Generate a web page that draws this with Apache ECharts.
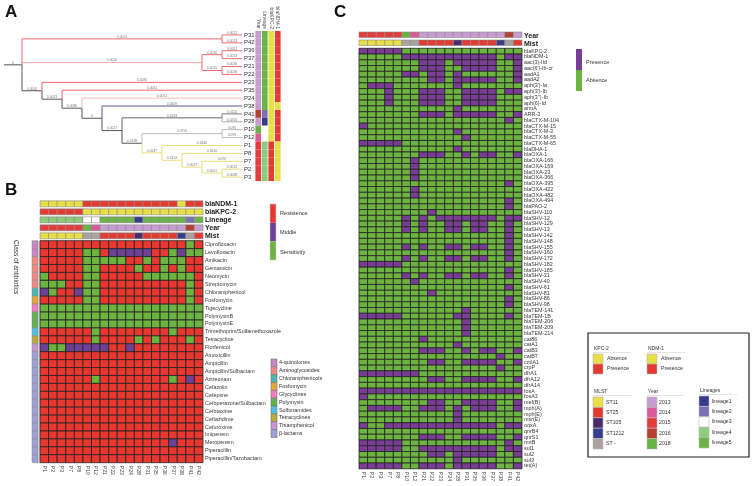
<!DOCTYPE html>
<html>
<head>
<meta charset="utf-8">
<script src="https://cdn.jsdelivr.net/npm/echarts@6/dist/echarts.min.js"></script>
<style>
html, body { margin: 0; padding: 0; background: #fff; }
#chart { width: 753px; height: 486px; }
</style>
</head>
<body>
<div id="chart"></div>
<script>
const FONT = 'Liberation Sans, Arial, sans-serif'

// isolates, column order of panels B and C
const isolates = ['P1', 'P2', 'P3', 'P7', 'P8', 'P10', 'P12', 'P21', 'P22', 'P23', 'P24', 'P28', 'P31', 'P35', 'P36', 'P37', 'P38', 'P41', 'P42']
const isolateYear = ['2015', '2015', '2015', '2015', '2015', '2018', '2014', '2013', '2013', '2013', '2013', '2013', '2013', '2013', '2013', '2013', '2013', '2016', '2013']
const isolateMLST = ['ST11', 'ST11', 'ST11', 'ST11', 'ST11', 'ST -', 'ST -', 'ST25', 'ST25', 'ST25', 'ST25', 'ST105', 'ST25', 'ST25', 'ST25', 'ST25', 'ST1212', 'ST -', 'ST25']
const isolateLineage = ['lineage4', 'lineage4', 'lineage4', 'lineage4', 'lineage4', 'lineage3', 'lineage3', 'lineage5', 'lineage5', 'lineage5', 'lineage5', 'lineage1', 'lineage5', 'lineage5', 'lineage5', 'lineage5', 'lineage5', 'lineage2', 'lineage5']
const isolateKPC = ['Presence', 'Presence', 'Presence', 'Presence', 'Presence', 'Absence', 'Absence', 'Absence', 'Absence', 'Absence', 'Absence', 'Absence', 'Absence', 'Absence', 'Absence', 'Absence', 'Absence', 'Absence', 'Absence']
const isolateNDM = ['Absence', 'Absence', 'Absence', 'Absence', 'Absence', 'Presence', 'Presence', 'Presence', 'Presence', 'Presence', 'Presence', 'Presence', 'Presence', 'Presence', 'Presence', 'Presence', 'Absence', 'Presence', 'Presence']

// panel A tree (branch length labels as printed)
const tree = { len: '0', color: '#555', children: [
	{ len: '0.0023', color: '#e86b70', children: [{ name: 'P31', len: '0.0021' }, { name: 'P42', len: '0.0023' }] },
	{ len: '0.0020', color: '#f0a9ab', children: [
		{ len: '0.0016', color: '#e86b70', children: [{ name: 'P36', len: '0.0011' }, { name: 'P37', len: '0.0013' }] },
		{ len: '0.0015', color: '#e86b70', children: [{ name: 'P21', len: '0.0026' }, { name: 'P22', len: '0.0026' }] },
	] },
	{ len: '0.0002', children: [
		{ name: 'P23', len: '0.0085', color: '#e86b70' },
		{ len: '0.0013', children: [
			{ name: 'P35', len: '0.0061', color: '#e86b70' },
			{ len: '0.0080', children: [
				{ name: 'P24', len: '0.0051', color: '#f5b9bb' },
				{ len: '0', children: [
					{ name: 'P38', len: '0.0609', color: '#565b8d' },
					{ len: '0.0027', children: [
						{ len: '0.0183', color: '#666', children: [{ name: 'P41', len: '0.0120', color: '#777' }, { name: 'P28', len: '0.0255', color: '#aaa' }] },
						{ len: '0.0138', children: [
							{ len: '0.0755', color: '#bbb', children: [{ name: 'P10', len: '0.095' }, { name: 'P12', len: '0.095' }] },
							{ len: '0.0247', color: '#e6df78', children: [
								{ name: 'P1', len: '0.0646' },
								{ len: '0.0124', children: [
									{ name: 'P8', len: '0.0610' },
									{ len: '0.0027', children: [
										{ name: 'P7', len: '0.092' },
										{ len: '0.0051', children: [{ name: 'P2', len: '0.0012' }, { name: 'P3', len: '0.0068' }] },
									] },
								] },
							] },
						] },
					] },
				] },
			] },
		] },
	] },
] }

// panel B: antibiotic susceptibility (R resistance, M middle, S sensitivity)
const antibiotics = ['Ciprofloxacin', 'Levofloxacin', 'Amikacin', 'Gentamicin', 'Neomycin', 'Streptomycin', 'Chloramphenicol', 'Fosfomycin', 'Tigecycline', 'PolymyxinB', 'PolymyxinE', 'Trimethoprim/Sulfamethoxazole', 'Tetracycline', 'Florfenicol', 'Amoxicillin', 'Ampicillin', 'Ampicillin/Sulbactam', 'Aztreonam', 'Cefazolin', 'Cefepime', 'Cefoperazone/Sulbactam', 'Cefotaxime', 'Ceftazidime', 'Cefuroxime', 'Imipenem', 'Meropenem', 'Piperacillin', 'Piperacillin/Tazobactam']
const antibioticClass = ['4-quinolones', '4-quinolones', 'Aminoglycosides', 'Aminoglycosides', 'Aminoglycosides', 'Aminoglycosides', 'Chloramphenicols', 'Fosfomycin', 'Glycyclines', 'Polymyxin', 'Polymyxin', 'Sulfonamides', 'Tetracyclines', 'Thiamphenicol', 'β-lactams', 'β-lactams', 'β-lactams', 'β-lactams', 'β-lactams', 'β-lactams', 'β-lactams', 'β-lactams', 'β-lactams', 'β-lactams', 'β-lactams', 'β-lactams', 'β-lactams', 'β-lactams']
const susceptibility = [
	'RRRRRRRRRRRRRRRRRSR',
	'RRRRRSSRMMMMMRRSMSS',
	'RRRRRSSSSSRRSRSSSRR',
	'RRRRRSSRRRRSRRSRSRR',
	'SRRRRSSRRRRRSSSSSSR',
	'SSSRRSSRRRRRRRRRRSR',
	'MSRRMSSRRRRRRRRRRSR',
	'RRRRRSSRRRRRRRRRRSR',
	'SSSSSSSSSSSSSSSSSSS',
	'SSSSSSSSSSSSSSSSSSS',
	'SSSSSSSSSSSSSSSSSSS',
	'RRRRRRSRRRRRRRRSRRR',
	'RRRRRRSRRRRSRSRRRSR',
	'MSSMMMMMRRMRRRRRRRR',
	'RRRRRRRRRRRRRRRRRRR',
	'RRRRRRRRRRRRRRRRRRR',
	'RRRRRRRRRRRRRRRRRRR',
	'RRRRRRSRRRRRRRRSRMR',
	'RRRRRRRRRRRRRRRRRRR',
	'RRRRRRRRRRRRRRRRRRR',
	'RRRRRRRRRRRRRRRRRRR',
	'RRRRRRRRRRRRRRRRRRR',
	'RRRRRRRRRRRRRRRRRRR',
	'RRRRRRRRRRRRRRRRRRR',
	'RRRRRRRRRRRRRRRRRRR',
	'RRRRRRRRRRRRRRRMRRR',
	'RRRRRRRRRRRRRRRRRRR',
	'RRRRRRRRRRRRRRRRRRR',
]

// panel C: resistance genes (1 presence, 0 absence)
const genes = ['blaKPC-2', 'blaNDM-1', 'aac(3)-IId', "aac(6')-Ib-cr", 'aadA1', 'aadA2', "aph(3')-Ia", "aph(3')-Ib", "aph(3'')-Ib", 'aph(6)-Id', 'armA', 'ARR-3', 'blaCTX-M-104', 'blaCTX-M-15', 'blaCTX-M-3', 'blaCTX-M-55', 'blaCTX-M-65', 'blaDHA-1', 'blaOXA-1', 'blaOXA-166', 'blaOXA-169', 'blaOXA-23', 'blaOXA-366', 'blaOXA-395', 'blaOXA-422', 'blaOXA-482', 'blaOXA-494', 'blaPAO-2', 'blaSHV-110', 'blaSHV-12', 'blaSHV-129', 'blaSHV-13', 'blaSHV-142', 'blaSHV-148', 'blaSHV-155', 'blaSHV-160', 'blaSHV-172', 'blaSHV-182', 'blaSHV-185', 'blaSHV-31', 'blaSHV-40', 'blaSHV-61', 'blaSHV-81', 'blaSHV-86', 'blaSHV-98', 'blaTEM-141', 'blaTEM-1B', 'blaTEM-206', 'blaTEM-209', 'blaTEM-214', 'cat86', 'catA1', 'catB3', 'catB7', 'cmlA1', 'crpP', 'dfrA1', 'dfrA12', 'dfrA14', 'fosA', 'fosA3', 'mef(B)', 'mph(A)', 'mph(E)', 'msr(E)', 'oqxA', 'qnrB4', 'qnrS1', 'rmtB', 'sul1', 'sul2', 'sul3', 'tet(A)']
const genePresence = [
	'1111100000000000000',
	'0000011111111111011',
	'0000000111011111001',
	'0000000111001111001',
	'0000011011010000001',
	'0000000011011111001',
	'0111000000010000000',
	'0001000111001111011',
	'0001000111001111000',
	'0001000111001111000',
	'0000000000010000000',
	'0000000111011111001',
	'0000000000000000010',
	'1000000000000000000',
	'0000000000010000000',
	'0000000000001000000',
	'1111100000000000000',
	'0000000000010000000',
	'0000000111001011001',
	'0000001000000000000',
	'0000001000000000000',
	'0000001000000000000',
	'0000001000000000000',
	'0000000000000000010',
	'0000001000000000000',
	'0000001000000000000',
	'0000000000000000010',
	'0000000000000000010',
	'0000000010000000000',
	'0000010101111111011',
	'0000010100110110010',
	'0000010100110110010',
	'0000000000000000010',
	'0000000000000000010',
	'0000010100110110010',
	'0000000000000000010',
	'0000010100110110010',
	'1111100000000000000',
	'0000000000000000010',
	'0000010100110110010',
	'0000001000000000000',
	'0000000000000000010',
	'0000000010000000000',
	'0000000000000000010',
	'0000000000000000010',
	'0000000000001000000',
	'1111100000011000010',
	'0000000000001000000',
	'0000000000001000000',
	'0000000000001000000',
	'0000000100000000000',
	'0000000000010000000',
	'0000000111001011001',
	'0000000000000000100',
	'0000000011001111001',
	'0000000000000000100',
	'1111111000000000000',
	'0000000011001111001',
	'0000000000000000000',
	'1111111111111111111',
	'1000000000000000000',
	'0000000011001111001',
	'0111100111010111001',
	'0000000000010000000',
	'0000000000010000000',
	'1001111111111111011',
	'0000000000000000000',
	'0000000111001111001',
	'1111100000000000010',
	'1111100111111111011',
	'0000000011011111001',
	'0000000000010000000',
	'1111100111011111001',
]

const yearColors = { '2013': '#c79cd0', '2014': '#d95b9c', '2015': '#e23c3c', '2016': '#b5402f', '2018': '#6ab344' }
const mlstColors = { 'ST11': '#e6df48', 'ST25': '#e23b33', 'ST105': '#4b2a6a', 'ST1212': '#363d8c', 'ST -': '#aaa29e' }
const lineageColors = { lineage1: '#363b8a', lineage2: '#7b70b5', lineage3: '#ffffff', lineage4: '#8dca7b', lineage5: '#6ab344' }
const geneColors = { Absence: '#e6df48', Presence: '#e23b33' }
const susColors = { R: '#e8372f', M: '#6d3f95', S: '#6cb33f' }
const classColors = { '4-quinolones': '#c685c3', 'Aminoglycosides': '#f08a80', 'Chloramphenicols': '#4cb5b2', 'Fosfomycin': '#e5a43c', 'Glycyclines': '#f07cc2', 'Polymyxin': '#5fb24e', 'Sulfonamides': '#4fc0e2', 'Tetracyclines': '#b9aa3c', 'Thiamphenicol': '#c795d2', 'β-lactams': '#9da1d8' }
const presenceColors = { '1': '#7a3d96', '0': '#6cb33f' }

// ---- tree layout (leaves aligned, node x from its height) ----
const treeEdges = []
const leafOrder = []
function layoutTree(node, color) {
	node.color = node.color || color
	if (!node.children) {
		node.h = 0
		node.y = leafOrder.length
		leafOrder.push(node.name)
	} else {
		node.children.forEach((ch) => layoutTree(ch, node.color))
		node.h = Math.max(...node.children.map((c) => c.h)) + 1
		node.y = (node.children[0].y + node.children[node.children.length - 1].y) / 2
	}
}
layoutTree(tree, '#555')
const treeDepth = tree.h
function collectEdges(node) {
	if (!node.children) return
	node.children.forEach((ch) => {
		treeEdges.push({ px: treeDepth - node.h, py: node.y, cx: treeDepth - ch.h, cy: ch.y, color: ch.color, label: ch.len, name: ch.name })
		collectEdges(ch)
	})
}
treeEdges.push({ px: -0.9, py: tree.y, cx: 0, cy: tree.y, color: '#555', label: tree.len })
collectEdges(tree)

// ---- cell renderer for heatmap-like panels ----
function cellRenderer(palette, opt) {
	return function (params, api) {
		const c = api.coord([api.value(0), api.value(1)])
		const s = api.size([1, 1])
		const px = opt.padX || 0
		const pt = opt.padTop || 0
		const pb = opt.padBottom || 0
		return {
			type: 'rect',
			shape: { x: c[0] - s[0] / 2 + px, y: c[1] - s[1] / 2 + pt, width: s[0] - 2 * px, height: s[1] - pt - pb },
			style: { fill: palette[api.value(2)], stroke: opt.stroke || null, lineWidth: opt.lw || 0 },
		}
	}
}

function toPalette(map) {
	const keys = Object.keys(map)
	return { keys, colors: keys.map((k) => map[k]) }
}

// annotation table for panel A (by leaf)
const annotA = ['Year', 'Lineage', 'blaKPC-2', 'blaNDM-1']
const annotAColors = []
const annotAData = []
leafOrder.forEach((leaf, r) => {
	const i = isolates.indexOf(leaf)
	const cols = [yearColors[isolateYear[i]], lineageColors[isolateLineage[i]], geneColors[isolateKPC[i]], geneColors[isolateNDM[i]]]
	cols.forEach((col, k) => {
		annotAColors.push(col)
		annotAData.push([k, r, annotAColors.length - 1])
	})
})

// annotation rows for panel B
const annotB = ['blaNDM-1', 'blaKPC-2', 'Lineage', 'Year', 'Mist']
const annotBColors = []
const annotBData = []
isolates.forEach((iso, i) => {
	const cols = [geneColors[isolateNDM[i]], geneColors[isolateKPC[i]], lineageColors[isolateLineage[i]], yearColors[isolateYear[i]], mlstColors[isolateMLST[i]]]
	cols.forEach((col, r) => {
		annotBColors.push(col)
		annotBData.push([i, r, annotBColors.length - 1])
	})
})

// annotation rows for panel C
const annotC = ['Year', 'Mist']
const annotCColors = []
const annotCData = []
isolates.forEach((iso, i) => {
	;[yearColors[isolateYear[i]], mlstColors[isolateMLST[i]]].forEach((col, r) => {
		annotCColors.push(col)
		annotCData.push([i, r, annotCColors.length - 1])
	})
})

const susPal = toPalette(susColors)
const susData = []
susceptibility.forEach((row, r) => {
	row.split('').forEach((v, i) => susData.push([i, r, susPal.keys.indexOf(v)]))
})

const classPal = toPalette(classColors)
const classData = antibioticClass.map((c, r) => [0, r, classPal.keys.indexOf(c)])

const presPal = toPalette(presenceColors)
const geneData = []
genePresence.forEach((row, r) => {
	row.split('').forEach((v, i) => geneData.push([i, r, presPal.keys.indexOf(v)]))
})

// ---- axes helpers ----
const hidden = { axisLine: { show: false }, axisTick: { show: false }, splitLine: { show: false } }
function catX(gridIndex, data, labelOpt) {
	return Object.assign({ type: 'category', gridIndex, data, axisLabel: labelOpt || { show: false } }, hidden)
}
function catY(gridIndex, data, labelOpt) {
	return Object.assign({ type: 'category', gridIndex, data, inverse: true, position: 'right', axisLabel: labelOpt || { show: false } }, hidden)
}
const smallLabel = { show: true, interval: 0, fontSize: 5.4, color: '#383838', fontFamily: FONT, margin: 2 }
const boldLabel = { show: true, interval: 0, fontSize: 7, fontWeight: 'bold', color: '#222', fontFamily: FONT, margin: 2 }
const colLabel = { show: true, interval: 0, rotate: -90, fontSize: 5.2, color: '#444', fontFamily: FONT, margin: 3 }

// ---- legends (graphic) ----
const graphics = []
function text(x, y, str, size, opt) {
	graphics.push({ type: 'text', x, y, style: Object.assign({ text: str, fontSize: size, fill: '#222', fontFamily: FONT, verticalAlign: 'middle' }, opt || {}) })
}
function box(x, y, w, h, fill, stroke) {
	graphics.push({ type: 'rect', shape: { x, y, width: w, height: h }, style: { fill, stroke: stroke || null, lineWidth: stroke ? 0.6 : 0 } })
}
text(5, 12, 'A', 17, { fontWeight: 'bold', fill: '#111' })
text(5, 190, 'B', 17, { fontWeight: 'bold', fill: '#111' })
text(334, 12, 'C', 17, { fontWeight: 'bold', fill: '#111' })
graphics.push({ type: 'text', x: 16, y: 240, rotation: -Math.PI / 2, style: { text: 'Class of antibiotics', fontSize: 6.5, fill: '#333', fontFamily: FONT, verticalAlign: 'middle' } })
graphics.push({ type: 'rect', shape: { x: 38.3, y: 240.7, width: 1.2, height: 222 }, style: { fill: '#d0d0d0' } })

// susceptibility legend
const susNames = { R: 'Resistence', M: 'Middle', S: 'Sensitivity' }
Object.keys(susNames).forEach((k, i) => {
	box(270, 204 + i * 18.7, 6, 18.7, susColors[k])
	text(280, 213 + i * 19.5, susNames[k], 5.6, { fill: '#333' })
})
graphics.push({ type: 'rect', shape: { x: 270, y: 204, width: 6, height: 56 }, style: { fill: null, stroke: '#ccc', lineWidth: 0.6 } })

// class legend
Object.keys(classColors).forEach((k, i) => {
	box(271, 359 + i * 7.85, 6, 7.85, classColors[k], '#777')
	text(279, 363 + i * 7.85, k, 5.4, { fill: '#333' })
})

// presence legend
box(576, 49, 6, 21, presenceColors['1'])
box(576, 70, 6, 21, presenceColors['0'])
text(586, 62, 'Presence', 5.5, { fill: '#333' })
text(586, 80, 'Absence', 5.5, { fill: '#333' })

// big legend box
graphics.push({ type: 'rect', shape: { x: 588, y: 333, width: 161, height: 124 }, style: { fill: null, stroke: '#222', lineWidth: 1.2 } })
function legendGroup(x, y, title, entries, pitch, labelDx) {
	text(x + 1, y, title, 5, { fill: '#333' })
	graphics.push({ type: 'line', shape: { x1: x, y1: y + 3.5, x2: x + 38, y2: y + 3.5 }, style: { stroke: '#ddd', lineWidth: 0.8 } })
	entries.forEach((e, i) => {
		box(x, y + 5 + i * pitch, 10, pitch, e[1], '#bbb')
		text(x + labelDx, y + 5 + i * pitch + pitch / 2, e[0], 5.2, { fill: '#333' })
	})
}
legendGroup(593, 349, 'KPC-2', [['Absence', geneColors.Absence], ['Presence', geneColors.Presence]], 10, 14)
legendGroup(647, 349, 'NDM-1', [['Absence', geneColors.Absence], ['Presence', geneColors.Presence]], 10, 14)
legendGroup(593, 392, 'MLST', Object.keys(mlstColors).map((k) => [k, mlstColors[k]]), 10.4, 13)
legendGroup(647, 392, 'Year', Object.keys(yearColors).map((k) => [k, yearColors[k]]), 10.4, 12)
legendGroup(699, 391, 'Lineages', Object.keys(lineageColors).map((k) => [k, lineageColors[k]]), 10.4, 13)

// ---- chart ----
const myChart = echarts.init(document.getElementById('chart'))
const option = {
	animation: false,
	textStyle: { fontFamily: FONT },
	grid: [
		{ left: 4, top: 31, width: 238, height: 150 },
		{ left: 255, top: 31, width: 26, height: 150 },
		{ left: 40, top: 200.5, width: 163, height: 40 },
		{ left: 32, top: 240.7, width: 6, height: 222 },
		{ left: 40, top: 240.7, width: 163, height: 222 },
		{ left: 359, top: 31.7, width: 163, height: 16 },
		{ left: 359, top: 48.3, width: 163, height: 420.5 },
	],
	xAxis: [
		Object.assign({ type: 'value', gridIndex: 0, min: -0.9, max: treeDepth, show: false }, hidden),
		Object.assign(catX(1, annotA, { show: true, interval: 0, rotate: 90, fontSize: 5, color: '#555', fontFamily: FONT, margin: 2 }), { position: 'top' }),
		catX(2, isolates),
		catX(3, ['class']),
		catX(4, isolates, colLabel),
		catX(5, isolates),
		catX(6, isolates, colLabel),
	],
	yAxis: [
		Object.assign({ type: 'value', gridIndex: 0, min: -0.5, max: leafOrder.length - 0.5, inverse: true, show: false }, hidden),
		catY(1, leafOrder),
		catY(2, annotB, boldLabel),
		catY(3, antibiotics),
		catY(4, antibiotics, smallLabel),
		catY(5, annotC, boldLabel),
		catY(6, genes, smallLabel),
	],
	series: [
		{
			type: 'custom',
			xAxisIndex: 0,
			yAxisIndex: 0,
			data: treeEdges.map((e) => [e.px, e.py, e.cx, e.cy]),
			renderItem: function (params, api) {
				const e = treeEdges[params.dataIndex]
				const p = api.coord([api.value(0), api.value(1)])
				const c = api.coord([api.value(2), api.value(3)])
				const children = [
					{ type: 'polyline', shape: { points: [[p[0], p[1]], [p[0], c[1]], [c[0], c[1]]] }, style: { stroke: e.color, lineWidth: 1, fill: null } },
					{ type: 'text', style: { text: e.label, x: (p[0] + c[0]) / 2, y: c[1] - 0.6, align: 'center', verticalAlign: 'bottom', fontSize: 3.4, fill: '#777', fontFamily: FONT } },
				]
				if (e.name) {
					children.push({ type: 'text', style: { text: e.name, x: c[0] + 2, y: c[1], verticalAlign: 'middle', fontSize: 6, fill: '#333', fontFamily: FONT } })
				}
				return { type: 'group', children }
			},
		},
		{ type: 'custom', xAxisIndex: 1, yAxisIndex: 1, data: annotAData, renderItem: cellRenderer(annotAColors, { padX: 0.4 }) },
		{ type: 'custom', xAxisIndex: 2, yAxisIndex: 2, data: annotBData, renderItem: cellRenderer(annotBColors, { padTop: 0.3, padBottom: 1.7, stroke: '#8a8a8a', lw: 0.6 }) },
		{ type: 'custom', xAxisIndex: 3, yAxisIndex: 3, data: classData, renderItem: cellRenderer(classPal.colors, { stroke: '#888', lw: 0.5 }) },
		{ type: 'custom', xAxisIndex: 4, yAxisIndex: 4, data: susData, renderItem: cellRenderer(susPal.colors, { stroke: '#222', lw: 0.8 }) },
		{ type: 'custom', xAxisIndex: 5, yAxisIndex: 5, data: annotCData, renderItem: cellRenderer(annotCColors, { padTop: 0.3, padBottom: 2.2, stroke: '#8a8a8a', lw: 0.6 }) },
		{ type: 'custom', xAxisIndex: 6, yAxisIndex: 6, data: geneData, renderItem: cellRenderer(presPal.colors, { stroke: '#222', lw: 0.8 }) },
	],
	graphic: graphics,
}
myChart.setOption(option)
</script>
</body>
</html>
